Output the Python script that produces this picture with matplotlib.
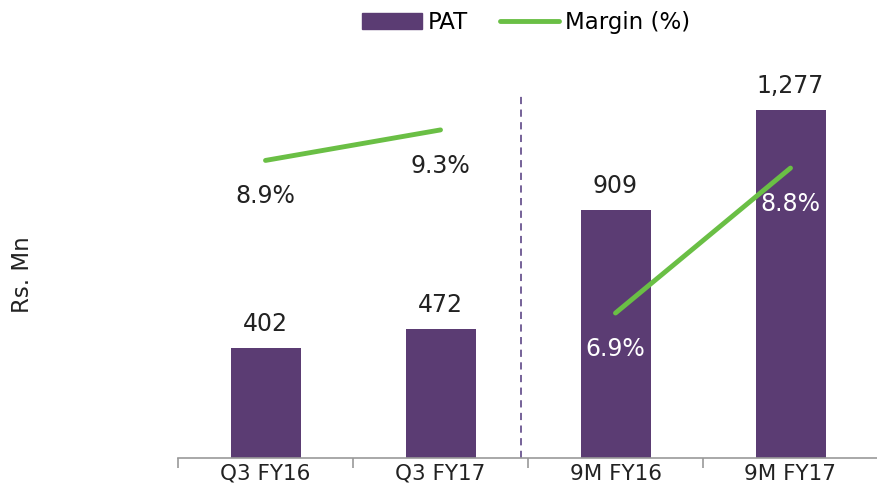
import matplotlib
matplotlib.use("Agg")
import matplotlib.pyplot as plt
from matplotlib.patches import Patch
from matplotlib.lines import Line2D

categories = ["Q3 FY16", "Q3 FY17", "9M FY16", "9M FY17"]
pat = [402, 472, 909, 1277]
pat_labels = ["402", "472", "909", "1,277"]
margin = [8.9, 9.3, 6.9, 8.8]
margin_labels = ["8.9%", "9.3%", "6.9%", "8.8%"]

bar_color = "#5b3c73"
line_color = "#6abf45"
plt.rcParams['font.family'] = ['DejaVu Sans']

fig = plt.figure(figsize=(8.77, 4.96), dpi=100)
ax = fig.add_axes([178/877, 38/496, 700/877, 381.5/496])
x = list(range(len(categories)))
ax.bar(x, pat, width=0.4, color=bar_color, zorder=2)
ax.set_xlim(-0.5, 3.5)
ax.set_ylim(0, 1400)
for xi, v, lab in zip(x, pat, pat_labels):
    ax.annotate(lab, (xi, v), xytext=(0, 9), textcoords="offset points",
                ha="center", va="bottom", fontsize=17, color="#222222")

for s in ["top", "right", "left"]:
    ax.spines[s].set_visible(False)
ax.spines["bottom"].set_color("#999999")
ax.spines["bottom"].set_linewidth(1.2)
ax.set_yticks([])
ax.set_xticks([-0.5, 0.5, 1.5, 2.5], minor=False)
ax.set_xticklabels([])
ax.tick_params(axis="x", which="major", length=7, color="#999999", width=1.2)
ax.set_xticks(x, minor=True)
ax.set_xticklabels(categories, minor=True, fontsize=15.5, color="#222222")
ax.tick_params(axis="x", which="minor", length=0, pad=4)
ax.set_ylabel("Rs. Mn", fontsize=16.5, color="#222222")
ax.yaxis.set_label_coords(-0.205, 0.48)

ax.axvline(1.46, ymin=0.0, ymax=0.95, color="#6a5590", linestyle=(0, (4, 3)), linewidth=1.3)

ax2 = ax.twinx()
ax2.set_ylim(5, 10)
ax2.set_xlim(-0.5, 3.5)
ax2.axis("off")
ax2.plot(x[:2], margin[:2], color=line_color, linewidth=3.5, solid_capstyle="round")
ax2.plot(x[2:], margin[2:], color=line_color, linewidth=3.5, solid_capstyle="round")
label_colors = ["#222222", "#222222", "white", "white"]
for xi, v, lab, c in zip(x, margin, margin_labels, label_colors):
    ax2.annotate(lab, (xi, v), xytext=(0, -17), textcoords="offset points",
                 ha="center", va="top", fontsize=17, color=c)

handles = [Patch(color=bar_color), Line2D([0], [0], color=line_color, linewidth=3.5, solid_capstyle="round")]
fig.legend(handles, ["PAT", "Margin (%)"], loc="center", bbox_to_anchor=(0.6, 0.955),
           ncol=2, frameon=False, fontsize=16.5, handlelength=2.6, handletextpad=0.25,
           columnspacing=1.4, borderaxespad=0)

fig.savefig("out.png", dpi=100)
